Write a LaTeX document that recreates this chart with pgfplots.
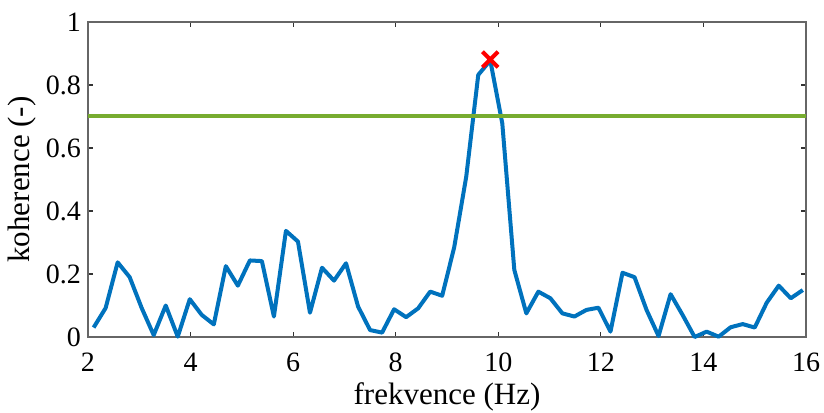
\documentclass[border=0pt]{standalone}
\usepackage{fontspec}
\setmainfont{Liberation Serif}
\usepackage{pgfplots}
\pgfplotsset{compat=1.18}
\usetikzlibrary{calc}
\definecolor{mblue}{RGB}{0,114,189}
\definecolor{mgreen}{RGB}{119,172,48}
\definecolor{mred}{RGB}{255,0,0}
\begin{document}
\begin{tikzpicture}
\begin{axis}[
  name=ax,
  scale only axis,
  width=359pt, height=157.5pt,
  xmin=2, xmax=16, ymin=0, ymax=1,
  xtick={2,4,...,16},
  ytick={0,0.2,...,1},
  xticklabels={2,4,6,8,10,12,14,16},
  yticklabels={0,0.2,0.4,0.6,0.8,1},
  tick align=inside,
  major tick length=2.5pt,
  axis line style={black!60, line width=0.6pt},
  tick style={black!80, line width=0.6pt},
  /pgf/number format/assume math mode=true,
  ticklabel style={font=\fontsize{14}{16}\selectfont, text=black},
  label style={font=\fontsize{15.5}{18}\selectfont},
  xlabel={frekvence (Hz)},
  ylabel={koherence (-)},
  xlabel style={yshift=1.5pt},
  ylabel style={yshift=-2pt},
  xticklabel style={yshift=-4.5pt},
  clip=false,
]
\addplot[mblue, line width=2pt, line join=round] coordinates {
(2.109375,0.030) (2.34375,0.092) (2.578125,0.237) (2.8125,0.190) (3.046875,0.092)
(3.28125,0.006) (3.515625,0.100) (3.75,0.001) (3.984375,0.120) (4.21875,0.070)
(4.453125,0.040) (4.6875,0.225) (4.921875,0.163) (5.15625,0.243) (5.390625,0.241)
(5.625,0.065) (5.859375,0.337) (6.09375,0.303) (6.328125,0.077) (6.5625,0.220)
(6.796875,0.179) (7.03125,0.234) (7.265625,0.097) (7.5,0.022) (7.734375,0.014)
(7.96875,0.088) (8.203125,0.063) (8.4375,0.091) (8.671875,0.144) (8.90625,0.131)
(9.140625,0.285) (9.375,0.509) (9.609375,0.832) (9.84375,0.878) (10.078125,0.678)
(10.3125,0.213) (10.546875,0.075) (10.78125,0.144) (11.015625,0.123) (11.25,0.075)
(11.484375,0.065) (11.71875,0.086) (11.953125,0.093) (12.1875,0.017) (12.421875,0.204)
(12.65625,0.190) (12.890625,0.086) (13.125,0.003) (13.359375,0.136) (13.59375,0.070)
(13.828125,0.000) (14.0625,0.017) (14.296875,0.001) (14.53125,0.031) (14.765625,0.041)
(15.0,0.030) (15.234375,0.109) (15.46875,0.163) (15.703125,0.123) (15.9375,0.149)
};
\addplot[mgreen, line width=2pt] coordinates {(2,0.7) (16,0.7)};
\addplot[only marks, mark=x, mark size=5.5pt, mred, mark options={line width=2pt}] coordinates {(9.84375,0.881)};
\end{axis}
\pgfresetboundingbox
\path ($(ax.south west)+(-44pt,-37.5pt)$) rectangle ($(ax.north east)+(9pt,11pt)$);
\end{tikzpicture}
\end{document}
